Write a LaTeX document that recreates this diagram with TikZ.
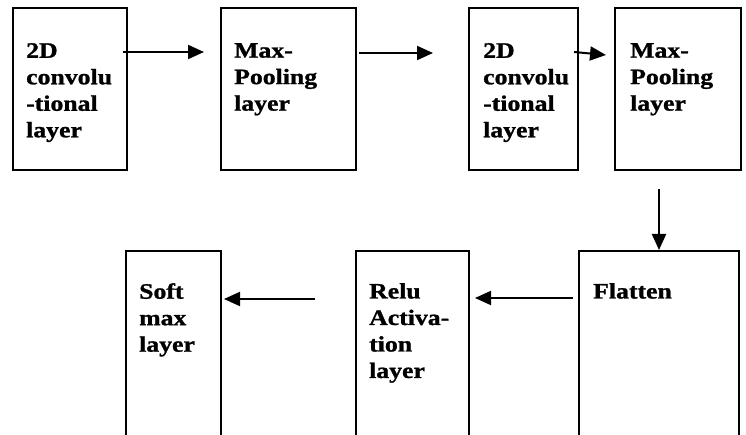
\documentclass[tikz,border=0pt]{standalone}
\usepackage{fontspec}
\setmainfont{Liberation Serif}[FakeStretch=1.17, BoldFeatures={FakeBold=1.2}]
\usepackage{tikz}
\usetikzlibrary{arrows.meta, calc}

\tikzset{
	layer/.style = {draw, line width = 2pt, anchor = north west, inner sep = 0pt},
	txt/.style = {font = \fontsize{22}{26.5}\selectfont\bfseries, align = left,
		inner sep = 0pt, anchor = north west},
	flow/.style = {line width = 2pt, -{Triangle[length = 16pt, width = 14pt]}}
}

\begin{document}
\begin{tikzpicture}[x = 1pt, y = -1pt]
\useasboundingbox (0, 0) rectangle (746, 435);
\clip (0, 0) rectangle (746, 435);

% top row
\node[layer, minimum width = 114pt, minimum height = 162pt] (conv1) at (12, 7) {};
\node[layer, minimum width = 135pt, minimum height = 162pt] (pool1) at (220, 7) {};
\node[layer, minimum width = 109pt, minimum height = 162pt] (conv2) at (468, 7) {};
\node[layer, minimum width = 126pt, minimum height = 162pt] (pool2) at (614, 7) {};

% bottom row, cut off by the page edge
\node[layer, minimum width = 160pt, minimum height = 210pt] (flat) at (578, 250) {};
\node[layer, minimum width = 113pt, minimum height = 210pt] (relu) at (355, 250) {};
\node[layer, minimum width = 95pt, minimum height = 210pt] (soft) at (125, 250) {};

\node[txt] (conv1txt) at ($(conv1.north west) + (14, 36)$) {2D\\convolu\\-tional\\layer};
\node[txt] (pool1txt) at ($(pool1.north west) + (14, 36)$) {Max-\\Pooling\\layer};
\node[txt] (conv2txt) at ($(conv2.north west) + (15, 36)$) {2D\\convolu\\-tional\\layer};
\node[txt] (pool2txt) at ($(pool2.north west) + (16, 36)$) {Max-\\Pooling\\layer};
\node[txt] (flattxt) at ($(flat.north west) + (15, 33)$) {Flatten};
\node[txt] (relutxt) at ($(relu.north west) + (14, 33)$) {Relu\\Activa-\\tion\\layer};
\node[txt] (softtxt) at ($(soft.north west) + (14, 33)$) {Soft\\max\\layer};

\draw[flow] ($(conv1.north east) + (-5, 45)$) -- ($(pool1.north west) + (-16, 45)$);
\draw[flow] ($(pool1.north east) + (2, 46)$) -- ($(conv2.north west) + (-35, 46)$);
\draw[flow] ($(conv2.north east) + (-5, 45)$) -- ($(pool2.north west) + (-8, 48)$);
\draw[flow] ($(flat.north |- pool2.south) + (0, 18)$) -- (flat.north);
\draw[flow] ($(flat.north west) + (-5, 48)$) -- ($(relu.north east) + (5, 48)$);
\draw[flow] ($(relu.north west) + (-40, 49)$) -- ($(soft.north east) + (2, 49)$);
\end{tikzpicture}
\end{document}
